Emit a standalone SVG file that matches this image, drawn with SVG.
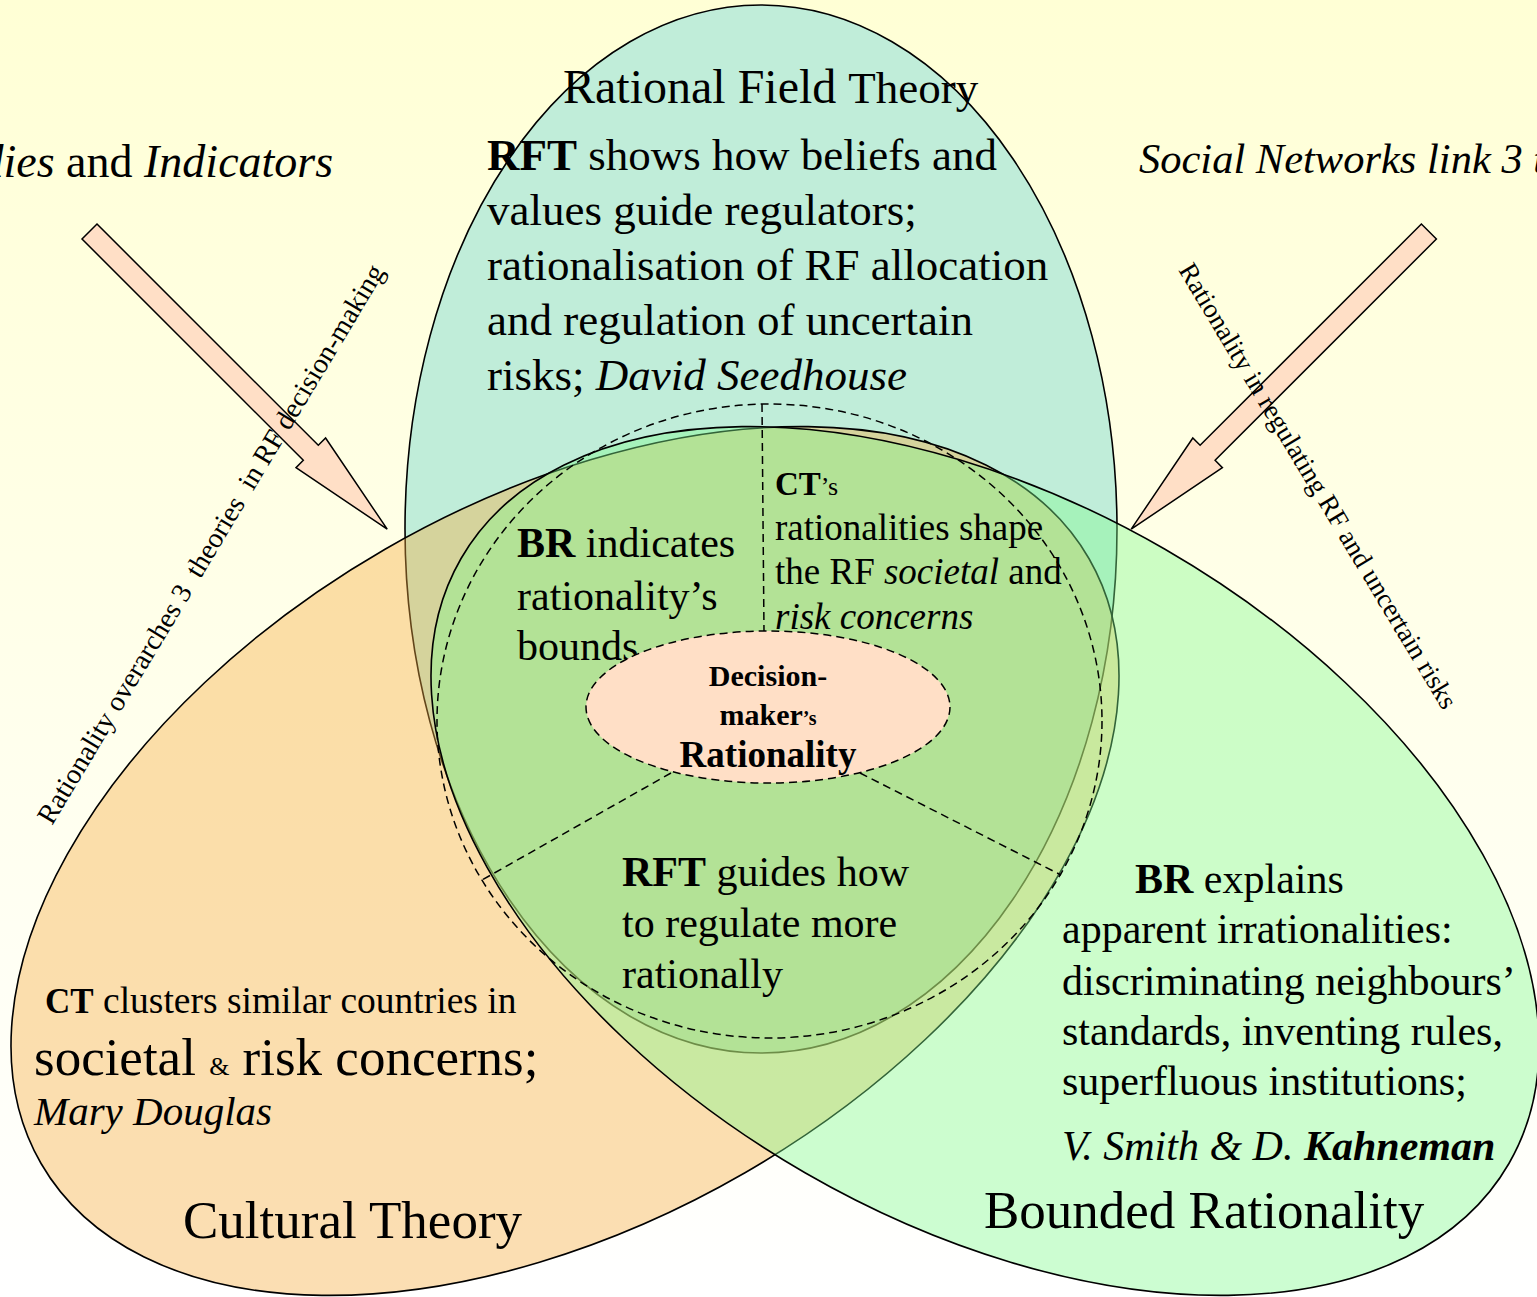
<svg xmlns="http://www.w3.org/2000/svg" width="1537" height="1297" viewBox="0 0 1537 1297">
<defs>
  <linearGradient id="bg" x1="0" y1="0" x2="0" y2="1">
    <stop offset="0" stop-color="#ffffd5"/>
    <stop offset="1" stop-color="#ffffff"/>
  </linearGradient>
  <style>
    text { font-family: "Liberation Serif", "Times New Roman", serif; fill: #000; }
    .b { font-weight: bold; }
    .i { font-style: italic; }
    .outline { stroke: #000; stroke-width: 1.6; }
    .dash { fill: none; stroke: #000; stroke-width: 1.5; stroke-dasharray: 8 5; }
    .dm { fill: #ffdfc6; stroke: #000; stroke-width: 1.5; stroke-dasharray: 8 5; }
    .arrow { fill: #ffdfc6; stroke: #000; stroke-width: 1.5; stroke-linejoin: miter; }
  </style>
</defs>
<rect x="0" y="0" width="1537" height="1297" fill="url(#bg)"/>

<g id="rft-ellipse">
  <ellipse class="outline" cx="761" cy="529" rx="356" ry="524" fill="#c0edd9"/>
</g>
<g id="ct-ellipse">
  <ellipse class="outline" cx="565" cy="861" rx="605" ry="360" transform="rotate(-30 565 861)" fill="#f5ad41" fill-opacity="0.4"/>
</g>
<g id="br-ellipse">
  <ellipse class="outline" cx="985" cy="861" rx="605" ry="360" transform="rotate(30 985 861)" fill="#80fa8f" fill-opacity="0.4"/>
</g>

<g id="core-circle">
  <ellipse class="dash" cx="769.5" cy="721" rx="332.5" ry="317"/>
</g>

<g id="connectors">
  <line class="dash" x1="762" y1="404" x2="764" y2="632"/>
  <line class="dash" x1="671" y1="773" x2="482" y2="880"/>
  <line class="dash" x1="860" y1="773" x2="1061" y2="875"/>
</g>

<g id="arrow-left">
  <polygon class="arrow" points="97,224 318.3,445.3 325.6,438 387.2,529.2 296,467.6 303.3,460.3 82,239"/>
</g>
<g id="arrow-right">
  <polygon class="arrow" points="1421.4,224 1200.1,445.3 1192.8,438 1131.2,529.2 1222.4,467.6 1215.1,460.3 1436.4,239"/>
</g>

<g id="label-left-arrow">
  <text transform="translate(52,826) rotate(-59)" font-size="28" xml:space="preserve" style="white-space:pre">Rationality overarches 3  theories  in RF decision-making</text>
</g>
<g id="label-right-arrow">
  <text transform="translate(1178,270) rotate(59)" font-size="27">Rationality in regulating RF and uncertain risks</text>
</g>

<g id="top-left-label">
  <text x="-19.5" y="177" font-size="46"><tspan class="i">dies</tspan> and <tspan class="i">Indicators</tspan></text>
</g>
<g id="top-right-label">
  <text x="1139" y="173" font-size="42.5" class="i">Social Networks link 3 t</text>
</g>

<g id="rft-node">
  <text x="563" y="103" font-size="48">Rational Field <tspan font-size="45">Theory</tspan></text>
  <text font-size="45">
    <tspan x="487" y="170"><tspan class="b">RFT</tspan> shows how beliefs and</tspan>
    <tspan x="487" y="225">values guide regulators;</tspan>
    <tspan x="487" y="280">rationalisation of RF allocation</tspan>
    <tspan x="487" y="335">and regulation of uncertain</tspan>
    <tspan x="487" y="390">risks; <tspan class="i">David Seedhouse</tspan></tspan>
  </text>
</g>

<g id="br-bounds">
  <text font-size="42">
    <tspan x="517" y="557"><tspan class="b">BR</tspan> indicates</tspan>
    <tspan x="517" y="610">rationality’s</tspan>
    <tspan x="517" y="660">bounds</tspan>
  </text>
</g>

<g id="ct-rationalities">
  <text x="775" y="495"><tspan class="b" font-size="33">CT</tspan><tspan font-size="26">’s</tspan></text>
  <text font-size="37">
    <tspan x="775" y="540">rationalities shape</tspan>
    <tspan x="775" y="584">the RF <tspan class="i">societal</tspan> and</tspan>
    <tspan x="775" y="629" class="i">risk concerns</tspan>
  </text>
</g>

<g id="rft-guides">
  <text font-size="42">
    <tspan x="622" y="886"><tspan class="b">RFT</tspan> guides how</tspan>
    <tspan x="622" y="937">to regulate more</tspan>
    <tspan x="622" y="988">rationally</tspan>
  </text>
</g>

<g id="decision-maker">
  <ellipse class="dm" cx="768" cy="707" rx="182" ry="76"/>
  <text x="768" y="686" font-size="30" class="b" text-anchor="middle">Decision-</text>
  <text x="768" y="725" class="b" text-anchor="middle"><tspan font-size="30">maker</tspan><tspan font-size="20">’s</tspan></text>
  <text x="768" y="767" font-size="37" class="b" text-anchor="middle">Rationality</text>
</g>

<g id="br-node">
  <text font-size="42">
    <tspan x="1135" y="893"><tspan class="b">BR</tspan> explains</tspan>
    <tspan x="1062" y="943">apparent irrationalities:</tspan>
    <tspan x="1062" y="995">discriminating neighbours’</tspan>
    <tspan x="1062" y="1045">standards, inventing rules,</tspan>
    <tspan x="1062" y="1095">superfluous institutions;</tspan>
    <tspan x="1062" y="1160" class="i">V. Smith &amp; D. <tspan class="b">Kahneman</tspan></tspan>
  </text>
  <text x="984" y="1228" font-size="53">Bounded Rationality</text>
</g>

<g id="ct-node">
  <text x="45" y="1013"><tspan class="b" font-size="35">CT</tspan><tspan font-size="37.5"> clusters similar countries in</tspan></text>
  <text x="34" y="1075" font-size="53">societal <tspan font-size="26">&amp;</tspan> risk concerns;</text>
  <text x="34" y="1125" font-size="41" class="i">Mary Douglas</text>
  <text x="183" y="1238" font-size="53">Cultural Theory</text>
</g>
</svg>
